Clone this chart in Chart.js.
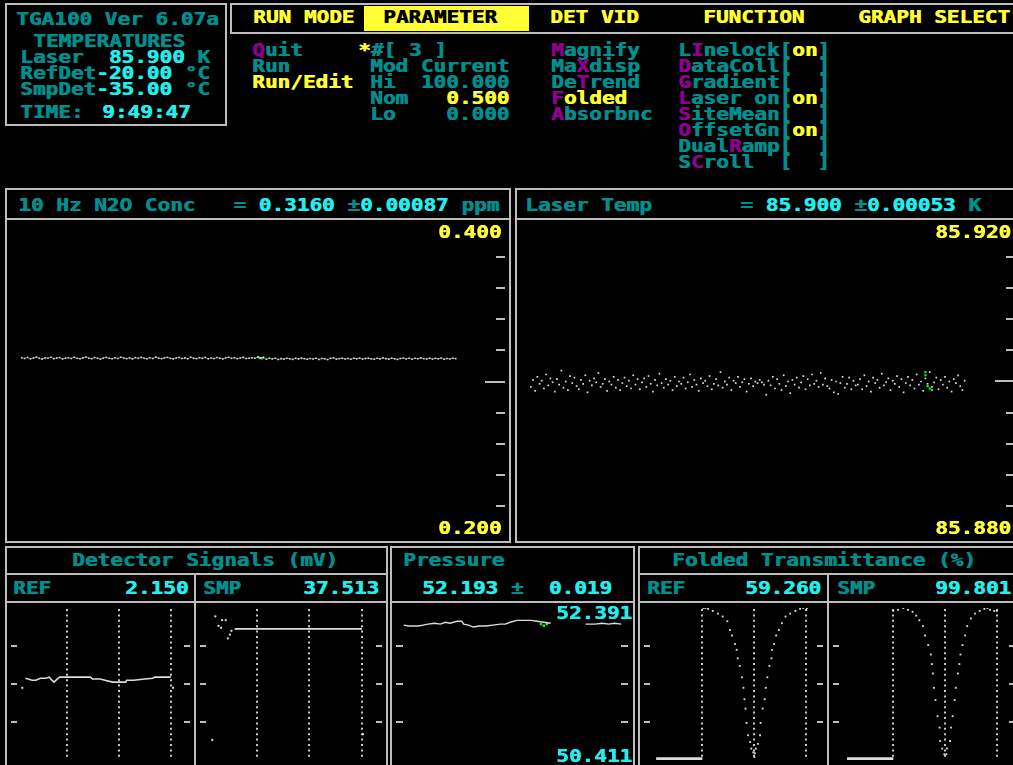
<!DOCTYPE html>
<html>
<head>
<meta charset="utf-8">
<script src="https://cdn.jsdelivr.net/npm/chart.js@4.4.1/dist/chart.umd.min.js"></script>
<style>
body{margin:0;background:#000;width:1013px;height:765px;overflow:hidden;position:relative;}
.box{position:absolute;border:2px solid #bdbdbd;box-sizing:border-box;}
.ln{position:absolute;background:#bdbdbd;}
.t{position:absolute;white-space:pre;font:bold 17px/17px "DejaVu Sans Mono",monospace;transform:scaleX(1.237);transform-origin:0 0;text-shadow:0.6px 0 0 currentColor;}
canvas{position:absolute;}
</style>
</head>
<body>
<!-- frames -->
<div class="box" style="left:5px;top:3px;width:222px;height:123px"></div>
<div class="box" style="left:230px;top:3px;width:800px;height:31px"></div>
<div style="position:absolute;left:364px;top:6px;width:165px;height:25px;background:#ffff33"></div>

<div class="box" style="left:5px;top:188px;width:506px;height:355px"></div>
<div class="ln" style="left:5px;top:218px;width:506px;height:2px"></div>
<div class="box" style="left:515px;top:188px;width:506px;height:355px"></div>
<div class="ln" style="left:515px;top:218px;width:506px;height:2px"></div>

<div class="box" style="left:5px;top:546px;width:383px;height:230px"></div>
<div class="ln" style="left:5px;top:573px;width:383px;height:2px"></div>
<div class="ln" style="left:5px;top:601px;width:383px;height:2px"></div>
<div class="ln" style="left:194px;top:573px;width:2px;height:200px"></div>

<div class="box" style="left:390px;top:546px;width:245px;height:230px"></div>
<div class="ln" style="left:390px;top:601px;width:245px;height:2px"></div>

<div class="box" style="left:638px;top:546px;width:400px;height:230px"></div>
<div class="ln" style="left:638px;top:573px;width:400px;height:2px"></div>
<div class="ln" style="left:638px;top:601px;width:400px;height:2px"></div>
<div class="ln" style="left:827px;top:573px;width:2px;height:200px"></div>

<canvas id="n2o" width="502" height="319" style="left:7px;top:222px"></canvas>
<canvas id="laser" width="502" height="319" style="left:517px;top:222px"></canvas>
<canvas id="detRef" width="187" height="160" style="left:7px;top:604px"></canvas>
<canvas id="detSmp" width="190" height="160" style="left:196px;top:604px"></canvas>
<canvas id="press" width="240" height="160" style="left:392px;top:604px"></canvas>
<canvas id="transRef" width="187" height="160" style="left:640px;top:604px"></canvas>
<canvas id="transSmp" width="190" height="160" style="left:829px;top:604px"></canvas>

<script>
// 10 Hz N2O concentration (ppm), one value per sample
const n2oConc = [
  0.3153,0.3148,0.3155,0.3146,0.3151,0.3157,0.3149,0.3144,0.3152,0.3150,
  0.3156,0.3147,0.3151,0.3154,0.3145,0.3150,0.3153,0.3148,0.3156,0.3149,
  0.3146,0.3152,0.3157,0.3150,0.3147,0.3154,0.3149,0.3144,0.3151,0.3155,
  0.3150,0.3146,0.3153,0.3148,0.3156,0.3151,0.3147,0.3152,0.3145,0.3154,
  0.3149,0.3155,0.3150,0.3146,0.3153,0.3148,0.3157,0.3150,0.3147,0.3152,
  0.3155,0.3149,0.3145,0.3151,0.3154,0.3148,0.3152,0.3146,0.3156,0.3150,
  0.3147,0.3153,0.3149,0.3155,0.3146,0.3151,0.3148,0.3154,0.3150,0.3145,
  0.3152,0.3156,0.3149,0.3153,0.3147,0.3151,0.3155,0.3148,0.3150,0.3153,
  0.3149,0.3158,0.3152,0.3156,0.3143,0.3150,0.3145,0.3149,0.3141,0.3147,
  0.3144,0.3150,0.3146,0.3142,0.3149,0.3145,0.3151,0.3147,0.3143,0.3148,
  0.3145,0.3150,0.3142,0.3148,0.3146,0.3141,0.3149,0.3152,0.3144,0.3147,
  0.3150,0.3145,0.3148,0.3143,0.3149,0.3146,0.3151,0.3144,0.3148,0.3150,
  0.3146,0.3143,0.3149,0.3145,0.3152,0.3147,0.3144,0.3150,0.3146,0.3142,
  0.3148,0.3151,0.3145,0.3150,0.3143,0.3149,0.3146,0.3152,0.3147,0.3145,
  0.3150,0.3144,0.3149,0.3146,0.3151,0.3143,0.3148,0.3145,0.3150,0.3147
];
const n2oCursorIdx = [81, 81.5, 82, 82.5, 83];
const n2oCursor = [0.3159, 0.3153, 0.3148, 0.3149, 0.3153];
const n2oTicks = [0.38, 0.36, 0.34, 0.32, 0.30, 0.28, 0.26, 0.24, 0.22];

// laser temperature (K)
const laserTemp = [
  85.8993,85.9002,85.8988,85.9006,85.8997,85.9001,85.8991,85.9009,85.8995,85.9004,
  85.8999,85.8987,85.9003,85.8996,85.9014,85.8992,85.9000,85.8989,85.9007,85.8998,
  85.9005,85.8994,85.8990,85.9002,85.8997,85.9008,85.8986,85.9001,85.8995,85.9004,
  85.8999,85.9011,85.8993,85.8997,85.9003,85.8988,85.9000,85.8996,85.9006,85.8992,
  85.9002,85.8989,85.8998,85.9005,85.8994,85.9001,85.8991,85.9008,85.8996,85.9003,
  85.8990,85.8999,85.9004,85.8993,85.9007,85.8997,85.8987,85.9002,85.8995,85.9010,
  85.8998,85.8992,85.9003,85.8996,85.9001,85.8989,85.9006,85.8994,85.9000,85.8997,
  85.9005,85.8991,85.8999,85.9009,85.8993,85.9002,85.8996,85.8988,85.9004,85.8998,
  85.9001,85.8994,85.9007,85.8990,85.8997,85.9003,85.8995,85.9012,85.8992,85.9000,
  85.8996,85.9005,85.8989,85.9001,85.8998,85.9006,85.8993,85.8999,85.9003,85.8987,
  85.8997,85.9004,85.8994,85.9000,85.8998,85.9002,85.8999,85.8996,85.8983,85.9001,
  85.8995,85.9006,85.8991,85.9003,85.8997,85.8989,85.9008,85.8994,85.9000,85.8985,
  85.9002,85.8996,85.9005,85.8992,85.8999,85.9007,85.8990,85.9003,85.8995,85.9009,
  85.8997,85.9001,85.8993,85.9011,85.8996,85.9004,85.8994,85.8991,85.9002,85.8986,
  85.9000,85.8984,85.8998,85.9006,85.8992,85.8997,85.9005,85.8990,85.9001,85.8995,
  85.8996,85.9003,85.8990,85.9008,85.8994,85.9000,85.8987,85.9005,85.8998,85.9002,
  85.8992,85.9010,85.8995,85.8999,85.9004,85.8989,85.9001,85.8997,85.9007,85.8993,
  85.9003,85.8986,85.8998,85.9006,85.8995,85.9002,85.8991,85.9009,85.8996,85.9000,
  85.8988,85.9004,85.8997,85.9012,85.8993,85.8999,85.9005,85.8990,85.9002,85.8996,
  85.9006,85.8992,85.9000,85.8987,85.9003,85.8998,85.9008,85.8994,85.8989,85.9001
];
const laserCursorIdx = [181, 181, 182, 183, 184];
const laserCursor = [85.9012, 85.9008, 85.8994, 85.8991, 85.8989];
const laserTicks = [85.916, 85.912, 85.908, 85.904, 85.900, 85.896, 85.892, 85.888, 85.884];

// detector signals (mV) vs scan position
const scanCols = [100, 200, 300];
const detRefX = [19, 24, 32, 39, 48, 58, 65, 70, 74, 80, 85, 98, 117, 144, 148, 163, 172, 187, 199, 212, 214, 227, 249, 264, 268, 282, 299];
const detRefY = [2.15, 2.13, 2.10, 2.10, 2.15, 2.15, 2.18, 2.10, 2.05, 2.13, 2.18, 2.18, 2.18, 2.18, 2.13, 2.13, 2.10, 2.05, 2.05, 2.05, 2.10, 2.10, 2.13, 2.15, 2.18, 2.18, 2.18];
const detRefStrayX = [13, 303];
const detRefStrayY = [1.90, 1.90];
const detRefTicks = [1, 2, 3];
const detSmpX = [13, 19, 25, 30, 32, 39, 43, 47, 50, 303];
const detSmpY = [5.3, 37.8, 35.3, 34.8, 36.8, 36.8, 32.0, 33.0, 34.0, 6.8];
const detSmpLineX = [56, 100, 150, 200, 250, 301];
const detSmpLineY = [34.5, 34.5, 34.5, 34.5, 34.5, 34.5];
const detSmpTicks = [10, 20, 30];

// pressure (torr)
const pressX = [4, 6.5, 9, 11.5, 14, 16.5, 20, 23, 25.5, 28, 31.5, 34, 35, 37.5, 40, 43, 46.5, 50, 54, 56.5, 59, 62.5, 66.5, 70, 73, 80, 89, 98, 103, 106.5, 110, 113, 116.5];
const pressY = [52.168, 52.156, 52.156, 52.156, 52.168, 52.181, 52.193, 52.181, 52.205, 52.193, 52.218, 52.218, 52.181, 52.168, 52.143, 52.156, 52.156, 52.168, 52.181, 52.181, 52.205, 52.230, 52.230, 52.230, 52.218, 52.193, null, 52.181, 52.181, 52.193, 52.181, 52.193, 52.181];
const pressCursorX = [75, 76.5, 78];
const pressCursorY = [52.181, 52.160, 52.181];
const pressRange = [50.411, 52.391];
const pressTicks = [50.906, 51.401, 51.896];

// folded transmittance (%)
const transRefX = [102, 106, 111, 120, 130, 139, 148, 153, 157, 163, 166, 168, 172, 176, 179, 181, 183, 185, 188, 192, 194, 198, 200, 201, 203, 207, 211, 212, 216, 220, 222, 225, 229, 233, 234, 238, 242, 247, 253, 260, 269, 279, 288, 294, 301];
const transRefY = [100, 100, 99.4, 98.1, 96.3, 94.4, 91.3, 85.6, 81.9, 76.3, 72.5, 66.9, 61.9, 54.4, 47.5, 40, 33.8, 24.4, 16.3, 11.9, 7.5, 5, 2, 4.4, 7.5, 10.6, 16.3, 24.4, 33.8, 40, 47.5, 54.4, 61.9, 66.9, 72.5, 76.3, 81.9, 85.6, 90, 94.4, 96.3, 98.1, 99.4, 100, 100];
const transSmpX = [100, 109, 119, 128, 137, 144, 150, 157, 161, 167, 172, 174, 176, 178, 181, 185, 189, 190, 194, 198, 202, 203, 209, 211, 214, 218, 220, 224, 227, 229, 233, 238, 242, 249, 257, 266, 275, 281, 286, 294, 299];
const transSmpY = [98.1, 98.8, 100, 98.8, 97.5, 95, 91.9, 88.1, 81.9, 75.6, 69.4, 63.1, 56.9, 47.5, 39.4, 28.8, 21.3, 12.5, 7.5, 3.8, 3.8, 7.5, 12.5, 21.3, 28.8, 39.4, 47.5, 56.9, 63.1, 69.4, 75.6, 81.9, 88.1, 93.1, 96.3, 98.1, 99.4, 100, 98.8, 98.1, 98.1];
const transBaseX = [11, 100];
const transBaseY = [0.8, 0.8];
const transTicks = [25, 50, 75];

const C = { t: '#008f8f', c: '#22eeee', y: '#ffff33', m: '#8f008f', k: '#000000' };
const GRAY = '#bdbdbd';
const TRACE = '#dcdcdc';
const GREEN = '#22e022';

// screen text: [left, capCenterY, [[text, colour], ...]]
const texts = [
  [16, 19, [['TGA100 Ver 6.07a', 't']]],
  [33, 41, [['TEMPERATURES', 't']]],
  [20, 57, [['Laser  ', 't'], ['85.900', 'c'], [' K', 't']]],
  [20, 73, [['RefDet', 't'], ['-20.00', 'c'], [' °C', 't']]],
  [20, 89, [['SmpDet', 't'], ['-35.00', 'c'], [' °C', 't']]],
  [20, 112, [['TIME:', 't']]],
  [102, 112, [['9:49:47', 'c']]],

  [253, 17, [['RUN MODE', 'y']]],
  [383, 17, [['PARAMETER', 'k']]],
  [550, 17, [['DET VID', 'y']]],
  [703, 17, [['FUNCTION', 'y']]],
  [858, 17, [['GRAPH SELECT', 'y']]],

  [252, 49.5, [['Q', 'm'], ['uit', 't']]],
  [252, 65.5, [['Run', 't']]],
  [252, 81.5, [['Run/Edit', 'y']]],

  [358, 49.5, [['*', 'y'], ['#[ 3 ]', 't']]],
  [370, 65.5, [['Mod Current', 't']]],
  [370, 81.5, [['Hi  100.000', 't']]],
  [370, 97.5, [['Nom   ', 't'], ['0.500', 'y']]],
  [370, 113.5, [['Lo    0.000', 't']]],

  [551, 49.5, [['M', 'm'], ['agnify', 't']]],
  [551, 65.5, [['Ma', 't'], ['X', 'm'], ['disp', 't']]],
  [551, 81.5, [['De', 't'], ['T', 'm'], ['rend', 't']]],
  [551, 97.5, [['F', 'm'], ['olded', 'y']]],
  [551, 113.5, [['A', 'm'], ['bsorbnc', 't']]],

  [678, 49.5, [['L', 't'], ['I', 'm'], ['nelock[', 't'], ['on', 'y'], [']', 't']]],
  [678, 65.5, [['D', 'm'], ['ataColl[  ]', 't']]],
  [678, 81.5, [['G', 'm'], ['radient[  ]', 't']]],
  [678, 97.5, [['L', 'm'], ['aser on[', 't'], ['on', 'y'], [']', 't']]],
  [678, 113.5, [['S', 'm'], ['iteMean[  ]', 't']]],
  [678, 129.5, [['O', 'm'], ['ffsetGn[', 't'], ['on', 'y'], [']', 't']]],
  [678, 145.5, [['Dual', 't'], ['R', 'm'], ['amp[  ]', 't']]],
  [678, 161.5, [['S', 't'], ['C', 'm'], ['roll  [  ]', 't']]],

  [18, 205, [['10 Hz N2O Conc   = ', 't'], ['0.3160', 'c'], [' ±', 't'], ['0.00087', 'c'], [' ppm', 't']]],
  [525, 205, [['Laser Temp       = ', 't'], ['85.900', 'c'], [' ±', 't'], ['0.00053', 'c'], [' K', 't']]],
  [438, 232, [['0.400', 'y']]],
  [438, 528, [['0.200', 'y']]],
  [935, 232, [['85.920', 'y']]],
  [935, 528, [['85.880', 'y']]],

  [72, 560, [['Detector Signals (mV)', 't']]],
  [13, 588, [['REF', 't']]],
  [125, 588, [['2.150', 'c']]],
  [203, 588, [['SMP', 't']]],
  [303, 588, [['37.513', 'c']]],

  [403, 560, [['Pressure', 't']]],
  [422, 588, [['52.193', 'c'], [' ±', 't'], ['  0.019', 'c']]],
  [556, 613, [['52.391', 'c']]],
  [556, 756, [['50.411', 'c']]],

  [672, 560, [['Folded Transmittance (%)', 't']]],
  [647, 588, [['REF', 't']]],
  [745, 588, [['59.260', 'c']]],
  [837, 588, [['SMP', 't']]],
  [935, 588, [['99.801', 'c']]]
];

// side tick marks and dotted scan columns, placed with the chart's own scales
const panelDeco = {
  id: 'panelDeco',
  beforeDatasetsDraw(chart, args, o) {
    if (!o || !o.vlines) return;
    const ctx = chart.ctx, a = chart.chartArea, xs = chart.scales.x;
    ctx.save();
    ctx.strokeStyle = '#c8c8c8';
    ctx.lineWidth = 2;
    ctx.setLineDash([2, 3.4]);
    o.vlines.forEach(v => {
      const x = Math.round(xs.getPixelForValue(v));
      ctx.beginPath(); ctx.moveTo(x, a.top + 1); ctx.lineTo(x, a.bottom); ctx.stroke();
    });
    ctx.restore();
  },
  afterDatasetsDraw(chart, args, o) {
    if (!o || !o.ticks) return;
    const ctx = chart.ctx, a = chart.chartArea, ys = chart.scales.y;
    ctx.save();
    ctx.strokeStyle = GRAY;
    ctx.lineWidth = 2;
    o.ticks.forEach(v => {
      const y = Math.round(ys.getPixelForValue(v));
      const len = v === o.longTick ? o.longLen : o.len;
      ctx.beginPath();
      if (o.left) { ctx.moveTo(a.left, y); ctx.lineTo(a.left + len, y); }
      if (o.right) { ctx.moveTo(a.right - len, y); ctx.lineTo(a.right, y); }
      ctx.stroke();
    });
    ctx.restore();
  }
};
Chart.register(panelDeco);

const zip = (xs, ys) => xs.map((x, i) => ({ x, y: ys[i] }));
const idx = arr => arr.map((_, i) => i);
const dots = (data, color, r) => ({ data, showLine: false, pointRadius: r || 1.3, pointStyle: 'rect', pointBorderWidth: 0, pointBackgroundColor: color || TRACE });
const trace = (data, color, w) => ({ data, borderColor: color || TRACE, borderWidth: w || 1.5, pointRadius: 0, tension: 0, spanGaps: false });

function panel(id, o) {
  return new Chart(document.getElementById(id), {
    type: 'line',
    data: { datasets: o.datasets },
    options: {
      responsive: false,
      animation: false,
      events: [],
      devicePixelRatio: 1,
      layout: { padding: 0 },
      plugins: { legend: { display: false }, tooltip: { enabled: false }, panelDeco: o.deco },
      scales: {
        x: { type: 'linear', display: false, min: o.x[0], max: o.x[1] },
        y: { type: 'linear', display: false, min: o.y[0], max: o.y[1] }
      }
    }
  });
}

panel('n2o', {
  x: [-3.7, 165.9], y: [0.200, 0.400],
  deco: { ticks: n2oTicks, longTick: 0.30, len: 9, longLen: 20, right: true },
  datasets: [
    trace(zip(idx(n2oConc), n2oConc), 'rgba(220,220,220,0.55)', 1),
    dots(zip(idx(n2oConc), n2oConc), TRACE, 1.1),
    trace(zip(n2oCursorIdx, n2oCursor), GREEN, 2.2)
  ]
});

panel('laser', {
  x: [-4.5, 222.1], y: [85.880, 85.920],
  deco: { ticks: laserTicks, longTick: 85.900, len: 9, longLen: 20, right: true },
  datasets: [
    dots(zip(idx(laserTemp), laserTemp), TRACE, 1.2),
    dots(zip(laserCursorIdx, laserCursor), GREEN, 1.6)
  ]
});

panel('detRef', {
  x: [-8.7, 335.7], y: [0, 4],
  deco: { ticks: detRefTicks, len: 6, left: true, right: true, vlines: scanCols },
  datasets: [
    trace(zip(detRefX, detRefY), TRACE, 1.6),
    dots(zip(detRefStrayX, detRefStrayY), TRACE, 1.4)
  ]
});

panel('detSmp', {
  x: [-10.5, 339.4], y: [0, 40],
  deco: { ticks: detSmpTicks, len: 6, left: true, right: true, vlines: scanCols },
  datasets: [
    trace(zip(detSmpLineX, detSmpLineY), TRACE, 1.6),
    dots(zip(detSmpX, detSmpY), TRACE, 1.4)
  ]
});

panel('press', {
  x: [0, 120], y: pressRange,
  deco: { ticks: pressTicks, len: 7, left: true, right: true },
  datasets: [
    trace(zip(pressX, pressY), TRACE, 1.4),
    dots(zip(pressCursorX, pressCursorY), GREEN, 1.8)
  ]
});

panel('transRef', {
  x: [-12.3, 332.1], y: [0, 100],
  deco: { ticks: transTicks, len: 6, left: true, right: true, vlines: scanCols },
  datasets: [
    dots(zip(transRefX, transRefY), TRACE, 1.3),
    trace(zip(transBaseX, transBaseY), TRACE, 3)
  ]
});

panel('transSmp', {
  x: [-16, 333.9], y: [0, 100],
  deco: { ticks: transTicks, len: 6, left: true, right: true, vlines: scanCols },
  datasets: [
    dots(zip(transSmpX, transSmpY), TRACE, 1.3),
    trace(zip(transBaseX, transBaseY), TRACE, 3)
  ]
});

// text goes on top of the plot canvases
texts.forEach(([x, y, parts]) => {
  const d = document.createElement('div');
  d.className = 't';
  d.style.left = x + 'px';
  d.style.top = (y - 8) + 'px';
  parts.forEach(([s, col]) => {
    const sp = document.createElement('span');
    sp.textContent = s;
    sp.style.color = C[col];
    d.appendChild(sp);
  });
  document.body.appendChild(d);
});
</script>
</body>
</html>
